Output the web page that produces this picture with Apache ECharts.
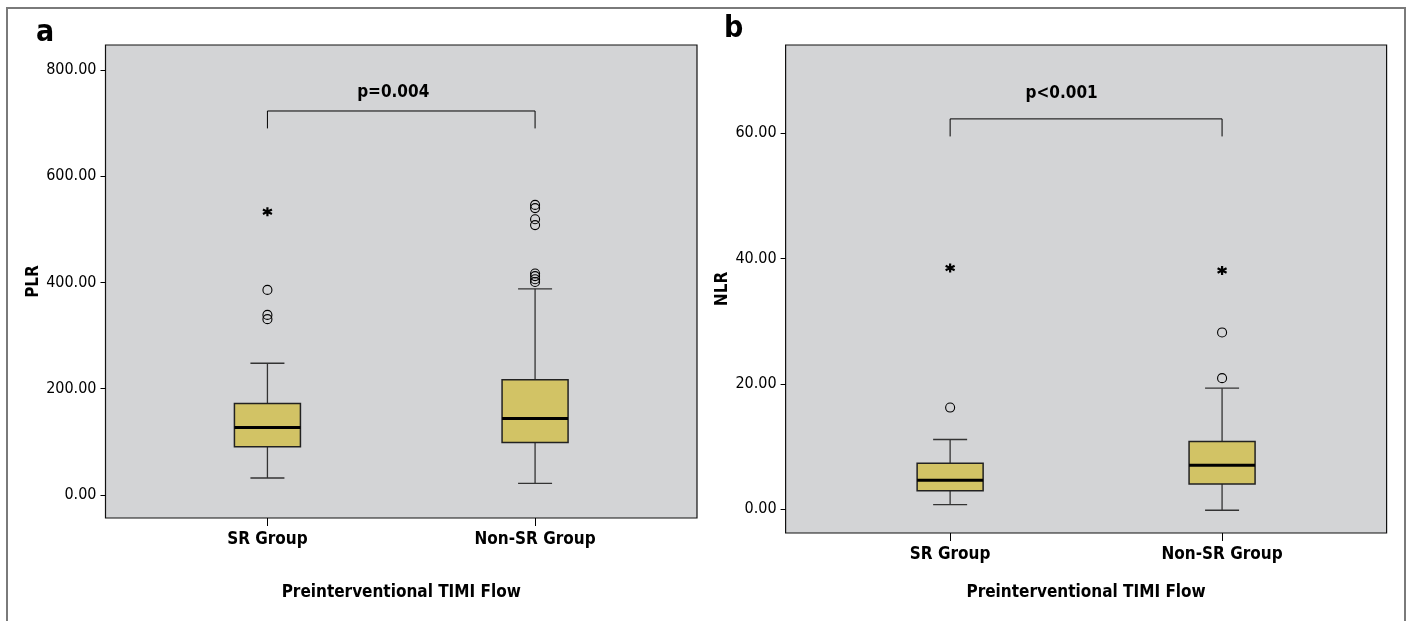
<!DOCTYPE html>
<html>
<head>
<meta charset="utf-8">
<script src="https://cdn.jsdelivr.net/npm/echarts@6/dist/echarts.min.js"></script>
<style>
html,body{margin:0;padding:0;background:#fff;}
#chart{width:1410px;height:621px;}
</style>
</head>
<body>
<div id="chart"></div>
<script>
// categories and values
var categories = ['SR Group', 'Non-SR Group'];

// [low whisker, Q1, median, Q3, high whisker]
var plrBox = [[32, 91, 127, 172, 248], [22, 99, 144, 217, 388]];
var plrOutliers = [[0, 386], [0, 339], [0, 331], [1, 546], [1, 540], [1, 519], [1, 508], [1, 417], [1, 412], [1, 406], [1, 401]];
var plrExtremes = [[0, 533]];
var plrTicks = [0, 200, 400, 600, 800];

var nlrBox = [[0.7, 2.9, 4.6, 7.3, 11.1], [-0.2, 4.0, 7.0, 10.8, 19.3]];
var nlrOutliers = [[0, 16.2], [1, 28.2], [1, 20.9]];
var nlrExtremes = [[0, 38.5], [1, 38.1]];
var nlrTicks = [0, 20, 40, 60];

var FONT = '"DejaVu Sans Condensed","Liberation Sans Narrow",sans-serif';
var BOX_FILL = '#d2c365';

function boxRows(box) {
	return box.map(function (b, i) { return [i].concat(b); });
}

function renderBox(params, api) {
	var x = api.value(0);
	var lo = api.coord([x, api.value(1)]);
	var q1 = api.coord([x, api.value(2)]);
	var med = api.coord([x, api.value(3)]);
	var q3 = api.coord([x, api.value(4)]);
	var hi = api.coord([x, api.value(5)]);
	var bw = 66, cw = 34, cx = lo[0];
	var ws = {stroke: '#333', lineWidth: 1.3};
	return {
		type: 'group',
		children: [
			{type: 'line', shape: {x1: cx, y1: hi[1], x2: cx, y2: q3[1]}, style: ws},
			{type: 'line', shape: {x1: cx, y1: q1[1], x2: cx, y2: lo[1]}, style: ws},
			{type: 'line', shape: {x1: cx - cw / 2, y1: hi[1], x2: cx + cw / 2, y2: hi[1]}, style: ws},
			{type: 'line', shape: {x1: cx - cw / 2, y1: lo[1], x2: cx + cw / 2, y2: lo[1]}, style: ws},
			{type: 'rect', shape: {x: cx - bw / 2, y: q3[1], width: bw, height: q1[1] - q3[1]},
				style: {fill: BOX_FILL, stroke: '#222', lineWidth: 1.5}},
			{type: 'line', shape: {x1: cx - bw / 2, y1: med[1], x2: cx + bw / 2, y2: med[1]},
				style: {stroke: '#000', lineWidth: 3}}
		]
	};
}

var starPath = 'path://M5,0L5,10M0.7,2.5L9.3,7.5M0.7,7.5L9.3,2.5';

function panelSeries(idx, box, outliers, extremes, bracket, pText, pPos) {
	return [
		{type: 'custom', xAxisIndex: idx, yAxisIndex: idx, renderItem: renderBox,
			data: boxRows(box), encode: {x: 0, y: [1, 2, 3, 4, 5]}, silent: true},
		{type: 'scatter', xAxisIndex: idx, yAxisIndex: idx, data: outliers,
			symbol: 'circle', symbolSize: 9,
			itemStyle: {opacity: 1, color: 'rgba(0,0,0,0)', borderColor: '#000', borderWidth: 1.1}},
		{type: 'scatter', xAxisIndex: idx, yAxisIndex: idx, data: extremes,
			symbol: starPath, symbolSize: 9,
			itemStyle: {opacity: 1, color: 'rgba(0,0,0,0)', borderColor: '#000', borderWidth: 2.2}},
		{type: 'line', xAxisIndex: idx, yAxisIndex: idx, symbol: 'none',
			lineStyle: {color: '#000', width: 1},
			data: [[0, bracket[0]], [0, bracket[1]], [1, bracket[1]], [1, bracket[0]]]},
		{type: 'scatter', xAxisIndex: idx, yAxisIndex: idx, symbolSize: 0,
			data: [pPos], itemStyle: {opacity: 1},
			label: {show: true, position: 'inside', formatter: pText,
				fontFamily: FONT, fontWeight: 'bold', fontSize: 17, color: '#000'}}
	];
}

function xAxisFor(idx, nameGap) {
	return {
		type: 'value', gridIndex: idx, min: -0.605, max: 1.605,
		splitLine: {show: false},
		axisLine: {show: false, onZero: false},
		axisTick: {show: true, customValues: [0, 1], length: 8, lineStyle: {color: '#000'}},
		axisLabel: {customValues: [0, 1], margin: 13, fontFamily: FONT, fontWeight: 'bold', fontSize: 17, color: '#000',
			formatter: function (v) { return categories[Math.round(v)]; }},
		name: 'Preinterventional TIMI Flow', nameLocation: 'middle', nameGap: nameGap,
		nameTextStyle: {fontFamily: FONT, fontWeight: 'bold', fontSize: 17, color: '#000'}
	};
}

function yAxisFor(idx, name, min, max, ticks, nameGap) {
	return {
		type: 'value', gridIndex: idx, min: min, max: max,
		splitLine: {show: false},
		axisLine: {show: false, onZero: false},
		axisTick: {show: true, customValues: ticks, length: 5, lineStyle: {color: '#000'}},
		axisLabel: {customValues: ticks, margin: 9, fontFamily: FONT, fontSize: 16, color: '#000',
			formatter: function (v) { return v.toFixed(2); }},
		name: name, nameLocation: 'middle', nameGap: nameGap, nameRotate: 90,
		nameTextStyle: {fontFamily: FONT, fontWeight: 'bold', fontSize: 17, color: '#000'}
	};
}

var chart = echarts.init(document.getElementById('chart'));
var option = {
	animation: false,
	backgroundColor: '#fff',
	grid: [
		{left: 105.5, top: 45, width: 591.5, height: 473, show: true,
			backgroundColor: '#d3d4d6', borderColor: '#111', borderWidth: 1.2},
		{left: 785.6, top: 45, width: 601, height: 488, show: true,
			backgroundColor: '#d3d4d6', borderColor: '#111', borderWidth: 1.2}
	],
	xAxis: [xAxisFor(0, 66), xAxisFor(1, 51)],
	yAxis: [
		yAxisFor(0, 'PLR', -43.3, 847, plrTicks, 56),
		yAxisFor(1, 'NLR', -3.83, 74.1, nlrTicks, 45)
	],
	series: [].concat(
		panelSeries(0, plrBox, plrOutliers, plrExtremes, [690, 722.8], 'p=0.004', [0.47, 757]),
		panelSeries(1, nlrBox, nlrOutliers, nlrExtremes, [59.5, 62.3], 'p<0.001', [0.41, 66.4])
	),
	graphic: [
		{type: 'rect', shape: {x: 7, y: 8, width: 1398, height: 640},
			style: {fill: 'none', stroke: '#7a7a7a', lineWidth: 2}, silent: true},
		{type: 'text', left: 36, top: 18,
			style: {text: 'a', font: 'bold 30px ' + FONT, fill: '#000'}},
		{type: 'text', left: 724, top: 14,
			style: {text: 'b', font: 'bold 30px ' + FONT, fill: '#000'}}
	]
};
chart.setOption(option);
</script>
</body>
</html>
